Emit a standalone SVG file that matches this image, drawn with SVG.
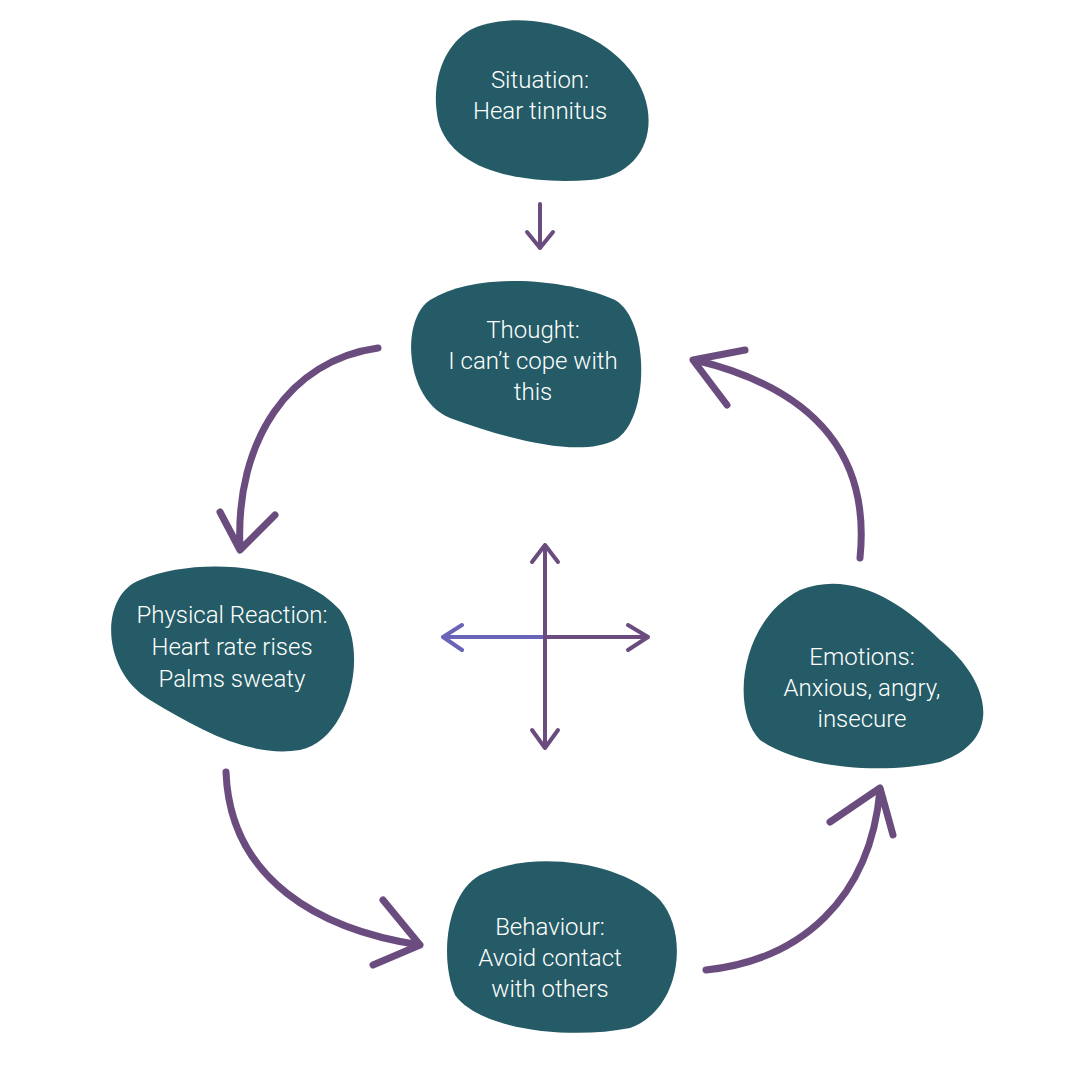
<svg xmlns="http://www.w3.org/2000/svg" width="1080" height="1080" viewBox="0 0 1080 1080">
<style>
.blob{fill:#245b66}
.t{fill:#fff;font-family:Roboto,"Open Sans",sans-serif;font-weight:300;font-size:24px;text-anchor:middle}
.a{fill:none;stroke:#6b4c7e;stroke-width:7;stroke-linecap:round;stroke-linejoin:round}
.b{fill:none;stroke:#6a64b8;stroke-width:4;stroke-linecap:round;stroke-linejoin:round}
.c{fill:none;stroke:#6b4c7e;stroke-width:4;stroke-linecap:round;stroke-linejoin:round}
</style>
<rect width="1080" height="1080" fill="#fff"/>
<g id="situation"><path class="blob" d="M470,30 C510,10 590,20 630,70 C665,115 650,175 590,180 C520,185 450,170 438,120 C430,80 445,45 470,30Z"/>
<text class="t" x="540" y="88">Situation:</text><text class="t" x="540" y="119">Hear tinnitus</text></g>
<g id="thought"><path class="blob" d="M430,300 C480,270 570,280 615,300 C650,320 650,420 615,440 C580,458 510,440 450,418 C405,400 400,320 430,300Z"/>
<text class="t" x="533" y="338">Thought:</text><text class="t" x="533" y="369">I can’t cope with</text><text class="t" x="533" y="400">this</text></g>
<g id="physical"><path class="blob" d="M140,580 C200,555 300,565 340,610 C370,650 350,740 300,750 C250,758 200,730 150,700 C100,670 100,595 140,580Z"/>
<text class="t" x="232" y="623">Physical Reaction:</text><text class="t" x="232" y="655">Heart rate rises</text><text class="t" x="232" y="687">Palms sweaty</text></g>
<g id="emotions"><path class="blob" d="M800,590 C850,570 900,600 940,640 C990,680 1005,740 940,762 C880,775 800,768 760,740 C730,710 740,620 800,590Z"/>
<text class="t" x="862" y="665">Emotions:</text><text class="t" x="862" y="696">Anxious, angry,</text><text class="t" x="862" y="727">insecure</text></g>
<g id="behaviour"><path class="blob" d="M480,875 C530,850 620,860 660,900 C690,935 680,1010 630,1028 C570,1040 480,1030 455,995 C440,960 445,895 480,875Z"/>
<text class="t" x="550" y="935">Behaviour:</text><text class="t" x="550" y="966">Avoid contact</text><text class="t" x="550" y="997">with others</text></g>
<g id="connectors">
<path class="c" d="M540,204 L540,248 M527,232 L540,248 L553,232"/>
<path class="a" d="M378,348 C290,360 235,440 240,548 M220,512 L240,550 L275,515"/>
<path class="a" d="M226,772 C230,880 320,930 420,945 M383,900 L420,945 L373,965"/>
<path class="a" d="M706,970 C800,960 870,900 880,790 M830,822 L880,788 L893,835"/>
<path class="a" d="M860,558 C870,460 820,390 695,360 M745,350 L693,360 L727,405"/>
<path class="b" d="M545,637 L443,637 M462,625 L443,637 L462,650"/>
<path class="c" d="M545,637 L648,637 M628,625 L648,637 L628,650"/>
<path class="c" d="M545,545 L545,748 M532,562 L545,545 L558,562 M532,730 L545,748 L558,730"/>
</g>
</svg>
